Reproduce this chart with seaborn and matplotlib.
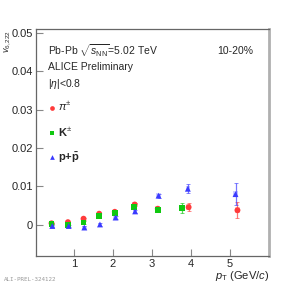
import matplotlib
matplotlib.use("Agg")
import matplotlib.pyplot as plt
import seaborn as sns
import pandas as pd
import numpy as np

sns.set_style("ticks")
plt.rcParams['font.family'] = ['Liberation Sans', 'DejaVu Sans']
plt.rcParams['mathtext.fontset'] = 'custom'
plt.rcParams['mathtext.rm'] = 'Liberation Sans'
plt.rcParams['mathtext.it'] = 'Liberation Sans:italic'
plt.rcParams['mathtext.bf'] = 'Liberation Sans:bold'

species = [r"$\pi^{\pm}$", r"$\mathbf{K}^{\pm}$", r"$\mathbf{p{+}\bar{p}}$"]
colors = ["#ff3b3b", "#10c810", "#3a3aff"]
markers = ["o", "s", "^"]

pi_pt = [0.43, 0.85, 1.25, 1.65, 2.05, 2.56, 3.15, 3.94, 5.19]
pi_v = [0.0004, 0.0007, 0.0016, 0.0029, 0.0034, 0.0053, 0.0042, 0.0046, 0.0038]
pi_err = [0.0002, 0.0002, 0.0003, 0.0003, 0.0004, 0.0004, 0.0005, 0.0011, 0.0021]
pi_sys = [0.0004, 0.0004, 0.0005, 0.0005, 0.0005, 0.0006, 0.0006, 0.0007, 0.0008]

k_pt = [0.43, 0.86, 1.25, 1.65, 2.05, 2.55, 3.15, 3.76]
k_v = [0.0003, 0.0000, 0.0006, 0.0022, 0.0032, 0.0046, 0.0039, 0.0044]
k_err = [0.0002, 0.0002, 0.0003, 0.0003, 0.0004, 0.0004, 0.0006, 0.0014]
k_sys = [0.0005, 0.0005, 0.0006, 0.0006, 0.0006, 0.0007, 0.0007, 0.0008]

p_pt = [0.45, 0.87, 1.27, 1.67, 2.07, 2.57, 3.17, 3.92, 5.14]
p_v = [-0.0003, -0.0003, -0.0007, 0.0001, 0.0019, 0.0035, 0.0076, 0.0094, 0.0080]
p_err = [0.0002, 0.0002, 0.0003, 0.0003, 0.0003, 0.0004, 0.0005, 0.0012, 0.0028]
p_sys = [0.0004, 0.0004, 0.0005, 0.0005, 0.0005, 0.0006, 0.0006, 0.0007, 0.0008]

frames = []
for name, pt, v, e, s in zip(species, [pi_pt, k_pt, p_pt], [pi_v, k_v, p_v],
                             [pi_err, k_err, p_err], [pi_sys, k_sys, p_sys]):
    frames.append(pd.DataFrame({"pt": pt, "v": v, "err": e, "sys": s, "species": name}))
df = pd.concat(frames, ignore_index=True)

fig = plt.figure(figsize=(2.99, 2.85), dpi=100)
ax = fig.add_axes([0.120, 0.102, 0.780, 0.796])

for name, c in zip(species, colors):
    d = df[df.species == name]
    ax.bar(d.pt, 2 * d.sys, bottom=d.v - d.sys, width=0.12, color=c, alpha=0.25,
           linewidth=0, zorder=1)
    ax.errorbar(d.pt, d.v, yerr=d.err, fmt="none", ecolor=c, elinewidth=0.9,
                capsize=1.5, capthick=0.6, alpha=0.7, zorder=2)

sns.scatterplot(data=df, x="pt", y="v", hue="species", style="species",
                palette=dict(zip(species, colors)), markers=dict(zip(species, markers)),
                s=18, linewidth=0, ax=ax, zorder=3)

leg = ax.legend(loc="upper left", bbox_to_anchor=(0.02, 0.72), frameon=False,
                fontsize=8, handlelength=0.6, handletextpad=0.3, labelspacing=1.08,
                markerscale=0.8, borderaxespad=0.3)

ax.set_xlim(0.03, 6.0)
ax.set_ylim(-0.0081, 0.051)
ax.set_xticks([1, 2, 3, 4, 5])
ax.set_yticks([0, 0.01, 0.02, 0.03, 0.04, 0.05])
ax.set_yticklabels(["0", "0.01", "0.02", "0.03", "0.04", "0.05"])
ax.tick_params(direction="in", length=5, width=0.8, color="#888888",
               labelsize=8, pad=2)
for sp in ["left", "top", "bottom"]:
    ax.spines[sp].set_color("#666666")
    ax.spines[sp].set_linewidth(0.9)
ax.spines["right"].set_color("#b0b0b0")
ax.spines["right"].set_linewidth(2.0)

ax.set_xlabel(r"$p_{\mathrm{T}}$ (GeV/$c$)", fontsize=8, loc="right", labelpad=0.3)
ax.set_ylabel(r"$v_{6,222}$", fontsize=6.5, va="center", ha="center")
ax.yaxis.set_label_coords(-0.122, 0.945)

ax.text(0.05, 0.905, r"Pb-Pb $\sqrt{s_{\mathrm{NN}}}$=5.02 TeV", transform=ax.transAxes,
        fontsize=7.5, va="center")
ax.text(0.05, 0.835, "ALICE Preliminary", transform=ax.transAxes, fontsize=7.5, va="center")
ax.text(0.05, 0.76, r"|$\eta$|<0.8", transform=ax.transAxes, fontsize=7.5, va="center")
ax.text(0.93, 0.905, "10-20%", transform=ax.transAxes, fontsize=7.5, va="center", ha="right")

fig.text(0.012, 0.014, "ALI-PREL-324122", fontsize=4.2, color="#999999",
         family="DejaVu Sans Mono")

fig.savefig("out.png", dpi=100)
